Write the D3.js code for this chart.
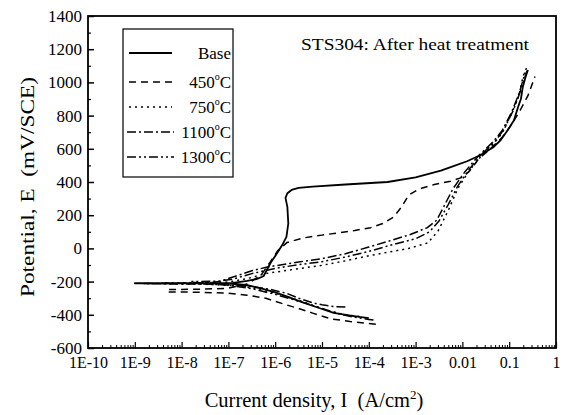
<!DOCTYPE html>
<html><head><meta charset="utf-8">
<script src="https://cdn.jsdelivr.net/npm/d3@7"></script>
<style>
html,body{margin:0;padding:0;background:#fff;}
</style></head>
<body>
<svg id="chart" width="564" height="415" font-family="'Liberation Serif','Times New Roman',serif"></svg>
<script>
// ---- data: [log10 I (A/cm2), E (mV/SCE)] ----
const xTickValues = [1e-10,1e-9,1e-8,1e-7,1e-6,1e-5,1e-4,1e-3,1e-2,1e-1,1];
const xTickLabels = ["1E-10","1E-9","1E-8","1E-7","1E-6","1E-5","1E-4","1E-3","0.01","0.1","1"];
const yTickValues = [-600,-400,-200,0,200,400,600,800,1000,1200,1400];
const seriesNames = ["Base","450","750","1100","1300"];

const base = [[-4.0,-420],[-4.2,-413],[-4.39,-405],[-4.75,-389],[-5.03,-362],[-5.25,-341],[-5.5,-316],[-5.74,-290],[-6.0,-265],[-6.32,-239],[-6.6,-222],[-6.9,-213],[-7.5,-210],[-8.5,-210],[-9.0,-210],
  [-8.5,-211],[-7.5,-211],[-6.9,-208],[-6.6,-196],[-6.4,-185],[-6.25,-168],[-6.1,-88],[-5.95,-25],[-5.85,20],[-5.76,69],[-5.72,150],[-5.74,250],[-5.78,304],[-5.74,332],[-5.65,352],[-5.5,364],[-5.2,372],[-4.5,385],[-3.6,400],[-3.0,428],[-2.46,468],[-2.25,490],[-1.9,525],[-1.61,563],[-1.33,611],[-1.18,653],[-1.03,713],[-0.9,770],[-0.81,852],[-0.75,900],[-0.71,972],[-0.65,1033],[-0.6,1075]];

const t450 = [[-3.85,-457],[-4.0,-452],[-4.4,-440],[-4.8,-425],[-5.2,-390],[-5.5,-362],[-5.8,-337],[-6.2,-300],[-6.6,-282],[-7.0,-270],[-7.6,-264],[-8.3,-262],
  [-8.3,-248],[-7.6,-246],[-7.0,-240],[-6.6,-215],[-6.3,-160],[-6.1,-80],[-5.95,-15],[-5.75,35],[-5.4,63],[-5.0,80],[-4.67,93],[-4.3,108],[-3.96,125],[-3.7,150],[-3.47,189],[-3.3,250],[-3.15,320],[-2.95,355],[-2.6,385],[-2.25,405],[-2.0,428],[-1.85,465],[-1.65,540],[-1.4,600],[-1.15,670],[-0.95,745],[-0.75,840],[-0.6,920],[-0.45,1035]];

const t750 = [[-4.2,-410],[-4.5,-400],[-4.9,-372],[-5.4,-322],[-6.0,-270],[-6.5,-237],[-6.9,-224],[-7.5,-216],[-8.4,-212],
  [-8.4,-207],[-7.5,-206],[-7.0,-203],[-6.6,-182],[-6.17,-150],[-5.5,-122],[-5.0,-102],[-4.5,-75],[-3.96,-42],[-3.5,-18],[-3.17,-2],[-2.74,33],[-2.52,105],[-2.3,230],[-2.1,360],[-1.85,470],[-1.6,555],[-1.35,625],[-1.15,695],[-0.96,805],[-0.8,915],[-0.7,1040],[-0.62,1093]];

const t1100 = [[-4.5,-353],[-4.7,-352],[-5.0,-340],[-5.18,-329],[-5.5,-300],[-5.74,-272],[-6.1,-247],[-6.5,-230],[-6.9,-221],[-7.5,-215],[-8.8,-213],
  [-8.8,-211],[-7.5,-210],[-7.2,-200],[-6.9,-172],[-6.5,-135],[-6.17,-112],[-5.5,-82],[-5.0,-62],[-4.5,-32],[-4.0,8],[-3.5,50],[-3.1,85],[-2.75,125],[-2.55,170],[-2.4,250],[-2.2,360],[-1.95,460],[-1.65,560],[-1.35,640],[-1.15,710],[-0.95,820],[-0.78,940],[-0.66,1060]];

const t1300 = [[-3.9,-432],[-4.0,-428],[-4.3,-415],[-4.6,-397],[-5.0,-362],[-5.5,-318],[-6.0,-277],[-6.5,-242],[-6.9,-226],[-7.3,-210],[-7.8,-203],
  [-7.8,-200],[-7.2,-198],[-6.9,-185],[-6.5,-152],[-6.0,-120],[-5.5,-98],[-5.0,-80],[-4.5,-52],[-4.0,-18],[-3.5,22],[-3.0,58],[-2.7,100],[-2.5,165],[-2.3,265],[-2.1,375],[-1.85,478],[-1.6,565],[-1.3,645],[-1.1,722],[-0.9,840],[-0.75,955],[-0.62,1070]];

const seriesData = [base, t450, t750, t1100, t1300];
const seriesDash = ["none","7,5","2,4","9,3,2,3","9,3,2,3,2,3"];

// ---- layout ----
const FONT = "'Liberation Serif','Times New Roman',serif";
const svg = d3.select("#chart");
const L = 88, R = 556, T = 16, B = 348;
const x = d3.scaleLog().domain([1e-10, 1]).range([L, R]);
const y = d3.scaleLinear().domain([-600, 1400]).range([B, T]);

// minor ticks
const xMinor = [];
for (let e = -10; e < 0; e++) for (let m = 2; m <= 9; m++) xMinor.push(m * Math.pow(10, e));
const yMinor = d3.range(-500, 1400, 200);

const gx = svg.append("g").attr("transform", `translate(0,${B})`)
  .call(d3.axisBottom(x).tickValues(xTickValues).tickSize(-6).tickPadding(9)
    .tickFormat((d, i) => xTickLabels[i]));
gx.attr("font-family", FONT).attr("font-size", 16);
gx.select(".domain").remove();
gx.selectAll("line").attr("stroke", "#000").attr("stroke-width", 1.2);
gx.selectAll("text").attr("fill", "#000");

const gxm = svg.append("g").attr("transform", `translate(0,${B})`)
  .call(d3.axisBottom(x).tickValues(xMinor).tickSize(-3).tickFormat(""));
gxm.select(".domain").remove();
gxm.selectAll("line").attr("stroke", "#000").attr("stroke-width", 1);

const gy = svg.append("g").attr("transform", `translate(${L},0)`)
  .call(d3.axisLeft(y).tickValues(yTickValues).tickSize(-6).tickPadding(6).tickFormat(d => String(d)));
gy.attr("font-family", FONT).attr("font-size", 17);
gy.select(".domain").remove();
gy.selectAll("line").attr("stroke", "#000").attr("stroke-width", 1.5);
gy.selectAll("text").attr("fill", "#000");

const gym = svg.append("g").attr("transform", `translate(${L},0)`)
  .call(d3.axisLeft(y).tickValues(yMinor).tickSize(-3).tickFormat(""));
gym.select(".domain").remove();
gym.selectAll("line").attr("stroke", "#000").attr("stroke-width", 1.2);

// frame
svg.append("rect").attr("x", L).attr("y", T).attr("width", R - L).attr("height", B - T)
  .attr("fill", "none").attr("stroke", "#000").attr("stroke-width", 1.8);

// curves
const line = d3.line().x(d => x(Math.pow(10, d[0]))).y(d => y(d[1]));
seriesData.forEach((s, i) => {
  svg.append("path").datum(s).attr("d", line)
    .attr("fill", "none").attr("stroke", "#000")
    .attr("stroke-width", i === 0 ? 1.8 : 1.5)
    .attr("stroke-dasharray", seriesDash[i])
    .attr("stroke-linejoin", "round");
});

// legend
const lg = svg.append("g").attr("font-family", FONT);
lg.append("rect").attr("x", 123).attr("y", 29).attr("width", 110).attr("height", 148)
  .attr("fill", "#fff").attr("stroke", "#000").attr("stroke-width", 1.2);
const legendY = [53, 82, 107, 132, 157];
seriesNames.forEach((n, i) => {
  const yy = legendY[i];
  lg.append("line").attr("x1", i < 3 ? 129 : 127).attr("x2", i < 3 ? 172 : 174).attr("y1", yy).attr("y2", yy)
    .attr("stroke", "#000").attr("stroke-width", i === 0 ? 1.8 : 1.5)
    .attr("stroke-dasharray", seriesDash[i]);
  const t = lg.append("text").attr("x", 231).attr("y", yy + 6).attr("text-anchor", "end").attr("font-size", 17);
  if (i === 0) t.text(n);
  else {
    t.append("tspan").text(n);
    t.append("tspan").attr("font-size", 10).attr("dy", -8).text("o");
    t.append("tspan").attr("dy", 8).text("C");
  }
});

// title annotation
svg.append("text").attr("x", 301).attr("y", 50).attr("font-family", FONT).attr("font-size", 17)
  .attr("textLength", 228).attr("lengthAdjust", "spacingAndGlyphs").text("STS304: After heat treatment");

// axis titles
svg.append("text").attr("transform", "translate(34,187) rotate(-90)").attr("text-anchor", "middle")
  .attr("font-family", FONT).attr("font-size", 19)
  .attr("textLength", 220).attr("lengthAdjust", "spacingAndGlyphs")
  .text("Potential, E\u00a0\u00a0(mV/SCE)");
const xt = svg.append("text").attr("x", 314).attr("y", 407).attr("text-anchor", "middle")
  .attr("font-family", FONT).attr("font-size", 20.5);
xt.append("tspan").text("Current density, I\u00a0\u00a0(A/cm");
xt.append("tspan").attr("font-size", 13).attr("dy", -8).text("2");
xt.append("tspan").attr("dy", 8).text(")");
</script>
</body></html>
